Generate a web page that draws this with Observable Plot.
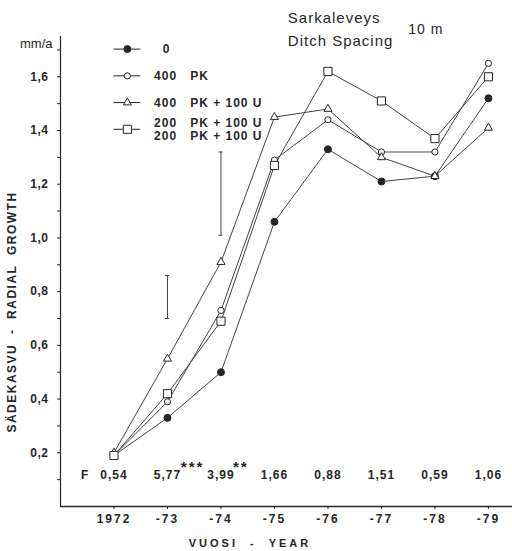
<!DOCTYPE html>
<html>
<head>
<meta charset="utf-8">
<script src="https://cdn.jsdelivr.net/npm/d3@7"></script>
<script src="https://cdn.jsdelivr.net/npm/@observablehq/plot@0.6"></script>
<style>
  html, body { margin: 0; padding: 0; background: #fff; }
  svg text { white-space: pre; }
  g[aria-label="x-axis tick label"] { letter-spacing: 2px; }
  g[aria-label="y-axis tick label"] { letter-spacing: 0.5px; }
  g[font-family$="ls1"] { letter-spacing: 1px; }
  g[font-family$="ls2"] { letter-spacing: 2px; }
</style>
</head>
<body>
<div id="chart"></div>
<script>
// ---- data ----
const years = [1972, 1973, 1974, 1975, 1976, 1977, 1978, 1979];
const xTickLabels = ["1972", "-73", "-74", "-75", "-76", "-77", "-78", "-79"];
const seriesNames = ["0", "400 PK", "400 PK + 100 U", "200 PK + 100 U"];
const s0      = [0.19, 0.33, 0.50, 1.06, 1.33, 1.21, 1.23, 1.52];
const s400PK  = [0.19, 0.39, 0.73, 1.29, 1.44, 1.32, 1.32, 1.65];
const s400PKU = [0.20, 0.55, 0.91, 1.45, 1.48, 1.30, 1.23, 1.41];
const s200PKU = [0.19, 0.42, 0.69, 1.27, 1.62, 1.51, 1.37, 1.60];
const fValues = ["0,54", "5,77", "3,99", "1,66", "0,88", "1,51", "0,59", "1,06"];
const errYears = [1973, 1974];
const errLow  = [0.70, 1.01];
const errHigh = [0.86, 1.32];
const legendLabels = ["  0", "400   PK", "400   PK + 100 U", "200   PK + 100 U\n200   PK + 100 U"];
const yTicks = d3.range(1, 18).map(i => i / 10);

// ---- tables ----
const allSeries = [s0, s400PK, s400PKU, s200PKU];
const long = [];
allSeries.forEach((vals, si) => vals.forEach((v, i) => long.push({series: seriesNames[si], year: years[i], value: v})));
const bySeries = name => long.filter(d => d.series === name);
const errs = errYears.map((x, i) => ({x, lo: errLow[i], hi: errHigh[i]}));
const fRow = years.map((y, i) => ({year: y, text: fValues[i]}));
const legend = seriesNames.map((s, i) => ({series: s, label: legendLabels[i], y: 1.703 - i * 0.0995}));

const ink = "#262626";
const lineC = "#444";
const FONT = "Liberation Sans, Arial, sans-serif";

const symbolSpecs = [
  {symbol: "circle", fill: ink, r: 3.5},
  {symbol: "circle", fill: "white", r: 3.1},
  {symbol: "triangle", fill: "white", r: 3.0},
  {symbol: "square", fill: "white", r: 4.6}
];

const marks = [
  Plot.ruleY([0], {stroke: ink, strokeWidth: 1.3}),
  Plot.ruleX([1971], {y1: 0, y2: 1.75, stroke: ink, strokeWidth: 1.2}),
  Plot.axisX(years, {tickSize: 3, tickPadding: 5, tickFormat: d => xTickLabels[years.indexOf(d)], fontSize: 12, fontWeight: "bold", label: null, stroke: ink, color: ink}),
  Plot.axisY(yTicks, {tickSize: 3, tickPadding: 9, tickFormat: d => (Math.round(d * 10) % 2 === 0 ? d.toFixed(1).replace(".", ",") : ""), fontSize: 12, fontWeight: "bold", label: null, stroke: ink, color: ink}),
  // error bars
  Plot.ruleX(errs, {x: "x", y1: "lo", y2: "hi", stroke: lineC, strokeWidth: 1}),
  Plot.ruleY(errs, {y: "lo", x1: d => d.x - 0.04, x2: d => d.x + 0.04, stroke: lineC, strokeWidth: 1}),
  Plot.ruleY(errs, {y: "hi", x1: d => d.x - 0.04, x2: d => d.x + 0.04, stroke: lineC, strokeWidth: 1}),
  // lines
  Plot.line(long, {x: "year", y: "value", z: "series", stroke: lineC, strokeWidth: 1}),
  // legend lines
  Plot.ruleY(legend, {y: "y", x1: 1972, x2: 1972.5, stroke: ink, strokeWidth: 1}),
];

seriesNames.forEach((name, i) => {
  const sp = symbolSpecs[i];
  marks.push(Plot.dot(bySeries(name), {x: "year", y: "value", symbol: sp.symbol, r: sp.r, fill: sp.fill, stroke: ink, strokeWidth: 1}));
  marks.push(Plot.dot([legend[i]], {x: 1972.25, y: "y", symbol: sp.symbol, r: sp.r, fill: sp.fill, stroke: ink, strokeWidth: 1}));
});

marks.push(
  Plot.text(legend, {x: 1972.75, y: "y", text: "label", textAnchor: "start", lineAnchor: "middle", lineHeight: 1.05, fontSize: 12, fontWeight: "bold", fill: ink, fontFamily: FONT + ", ls1"}),
  // F row
  Plot.text(fRow, {x: "year", y: 0.116, text: "text", fontSize: 12, fontWeight: "bold", fill: ink, fontFamily: FONT + ", ls1"}),
  Plot.text(["F"], {x: 1971.45, y: 0.116, text: d => d, fontSize: 12, fontWeight: "bold", fill: ink}),
  Plot.text(["***", "**"], {x: [1973.47, 1974.37], y: 0.146, text: d => d, fontSize: 15, fontWeight: "bold", fill: ink, fontFamily: FONT + ", ls2"}),
  // title
  Plot.text(["Sarkaleveys"], {x: 1975.25, y: 1.818, text: d => d, textAnchor: "start", fontSize: 15, fill: ink, fontFamily: FONT + ", ls1"}),
  Plot.text(["Ditch Spacing"], {x: 1975.25, y: 1.733, text: d => d, textAnchor: "start", fontSize: 15, fill: ink, fontFamily: FONT + ", ls1"}),
  Plot.text(["10 m"], {x: 1977.5, y: 1.776, text: d => d, textAnchor: "start", fontSize: 14, fill: ink, fontFamily: FONT + ", ls1"}),
  Plot.text(["mm/a"], {x: 1971, y: 1.722, text: d => d, textAnchor: "end", dx: -8, fontSize: 13, fill: ink})
);

const chart = Plot.plot({
  width: 512,
  height: 551,
  marginLeft: 60,
  marginRight: 0,
  marginTop: 36,
  marginBottom: 45,
  x: {domain: [1971, 1979.45]},
  y: {domain: [0, 1.75]},
  style: {fontFamily: FONT, background: "white", color: ink, overflow: "visible"},
  marks
});

const svg = d3.select(chart);
svg.append("text")
  .attr("transform", "translate(13,312) rotate(-90)")
  .attr("text-anchor", "middle").attr("dominant-baseline", "middle")
  .attr("font-size", 12).attr("font-weight", "bold").attr("letter-spacing", "1.5px")
  .attr("fill", ink).attr("font-family", FONT)
  .text("SÄDEKASVU  -  RADIAL  GROWTH");
svg.append("text")
  .attr("x", 250).attr("y", 544)
  .attr("text-anchor", "middle").attr("dominant-baseline", "middle")
  .attr("font-size", 11).attr("font-weight", "bold").attr("letter-spacing", "3px")
  .attr("fill", ink).attr("font-family", FONT)
  .text("VUOSI  -  YEAR");

document.getElementById("chart").appendChild(chart);
</script>
</body>
</html>
